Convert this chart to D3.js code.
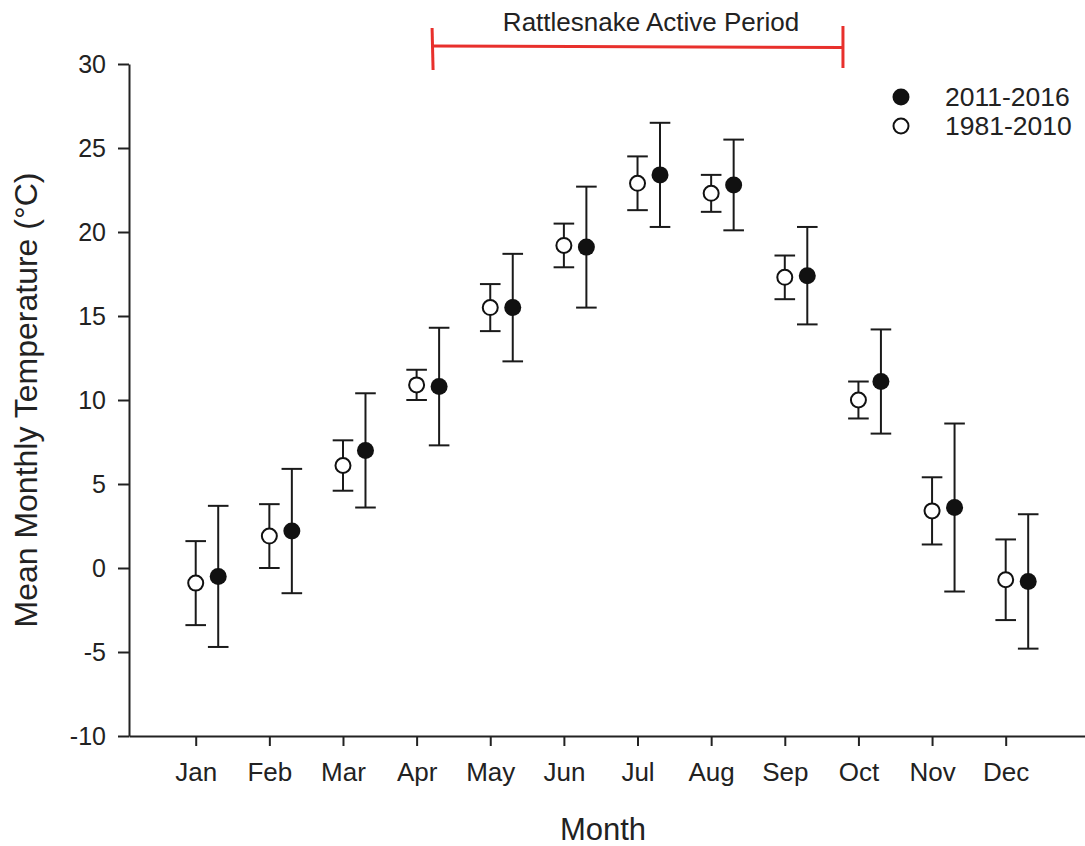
<!DOCTYPE html>
<html>
<head>
<meta charset="utf-8">
<script src="https://cdn.jsdelivr.net/npm/d3@7"></script>
<style>
  html, body { margin: 0; padding: 0; background: #fff; }
  svg text { font-family: "Liberation Sans", Arial, sans-serif; fill: #222; }
</style>
</head>
<body>
<svg id="chart" width="1085" height="846"></svg>
<script>
// --- data ---
const months = ['Jan','Feb','Mar','Apr','May','Jun','Jul','Aug','Sep','Oct','Nov','Dec'];
const normalMean = [-0.9, 1.9, 6.1, 10.9, 15.5, 19.2, 22.9, 22.3, 17.3, 10.0, 3.4, -0.7];   // 1981-2010
const normalErr  = [ 2.5, 1.9, 1.5,  0.9,  1.4,  1.3,  1.6,  1.1,  1.3,  1.1, 2.0,  2.4];
const recentMean = [-0.5, 2.2, 7.0, 10.8, 15.5, 19.1, 23.4, 22.8, 17.4, 11.1, 3.6, -0.8];   // 2011-2016
const recentErr  = [ 4.2, 3.7, 3.4,  3.5,  3.2,  3.6,  3.1,  2.7,  2.9,  3.1, 5.0,  4.0];
const yTicks = [-10, -5, 0, 5, 10, 15, 20, 25, 30];
const activePeriod = [3.21, 8.79]; // month index span of the bracket

const svg = d3.select('#chart');
const x = d3.scaleLinear().domain([-0.906, 12.077]).range([129, 1085]);
const y = d3.scaleLinear().domain([-10, 30]).range([736, 64]);
const dx = 22.5, cap = 10.3, r = 8.5;

// axes
const gx = svg.append('g').attr('transform', `translate(0,${y(-10)})`)
  .call(d3.axisBottom(x).tickValues(d3.range(12)).tickFormat(i => months[i]).tickSize(10).tickSizeOuter(0).tickPadding(17));
const gy = svg.append('g').attr('transform', `translate(${x.range()[0]},0)`)
  .call(d3.axisLeft(y).tickValues(yTicks).tickFormat(v => String(v)).tickSize(11).tickSizeOuter(0).tickPadding(12));
[gx, gy].forEach(g => {
  g.select('.domain').attr('stroke', '#222').attr('stroke-width', 2);
  g.selectAll('.tick line').attr('stroke', '#222').attr('stroke-width', 2);
  g.selectAll('.tick text').style('fill', '#222');
});
gx.selectAll('.tick text').style('font-size', '26px');
gy.selectAll('.tick text').style('font-size', '25px');

// axis titles
svg.append('text').attr('x', 603).attr('y', 840).attr('text-anchor', 'middle')
  .style('font-size', '31px').text('Month');
svg.append('text').attr('transform', `translate(37,${y(10)}) rotate(-90)`).attr('text-anchor', 'middle')
  .style('font-size', '32px').text('Mean Monthly Temperature (°C)');

// series
function series(mean, err, off, filled) {
  const g = svg.append('g');
  const pts = mean.map((m, i) => ({ i, m, e: err[i] }));
  const bar = g.selectAll('g.bar').data(pts).join('g').attr('class', 'bar')
    .attr('stroke', '#1a1a1a').attr('stroke-width', 2);
  bar.append('line').attr('x1', d => x(d.i) + off).attr('x2', d => x(d.i) + off)
    .attr('y1', d => y(d.m + d.e)).attr('y2', d => y(d.m - d.e));
  bar.append('line').attr('x1', d => x(d.i) + off - cap).attr('x2', d => x(d.i) + off + cap)
    .attr('y1', d => y(d.m + d.e)).attr('y2', d => y(d.m + d.e));
  bar.append('line').attr('x1', d => x(d.i) + off - cap).attr('x2', d => x(d.i) + off + cap)
    .attr('y1', d => y(d.m - d.e)).attr('y2', d => y(d.m - d.e));
  g.selectAll('circle').data(pts).join('circle')
    .attr('cx', d => x(d.i) + off).attr('cy', d => y(d.m))
    .attr('r', filled ? r : r - 1)
    .attr('fill', filled ? '#111' : '#fff')
    .attr('stroke', '#111').attr('stroke-width', filled ? 0 : 2);
}
series(normalMean, normalErr, 0, false);
series(recentMean, recentErr, dx, true);

// legend
const legend = [{ label: '2011-2016', filled: true, y: 97 }, { label: '1981-2010', filled: false, y: 126 }];
legend.forEach(l => {
  svg.append('circle').attr('cx', 901).attr('cy', l.y).attr('r', l.filled ? r : r - 1)
    .attr('fill', l.filled ? '#111' : '#fff').attr('stroke', '#111').attr('stroke-width', l.filled ? 0 : 2);
  svg.append('text').attr('x', 945).attr('y', l.y).attr('dy', '0.35em')
    .style('font-size', '26.5px').text(l.label);
});

// active period bracket
const red = '#e8302c';
const bx0 = x(activePeriod[0]), bx1 = x(activePeriod[1]);
svg.append('line').attr('x1', bx0).attr('x2', bx1).attr('y1', 46).attr('y2', 47.5)
  .attr('stroke', red).attr('stroke-width', 3);
svg.append('line').attr('x1', bx0).attr('x2', bx0 + 1).attr('y1', 28).attr('y2', 70)
  .attr('stroke', red).attr('stroke-width', 3);
svg.append('line').attr('x1', bx1).attr('x2', bx1).attr('y1', 26).attr('y2', 68)
  .attr('stroke', red).attr('stroke-width', 3);
svg.append('text').attr('x', 651).attr('y', 31).attr('text-anchor', 'middle')
  .style('font-size', '26px').text('Rattlesnake Active Period');
</script>
</body>
</html>
